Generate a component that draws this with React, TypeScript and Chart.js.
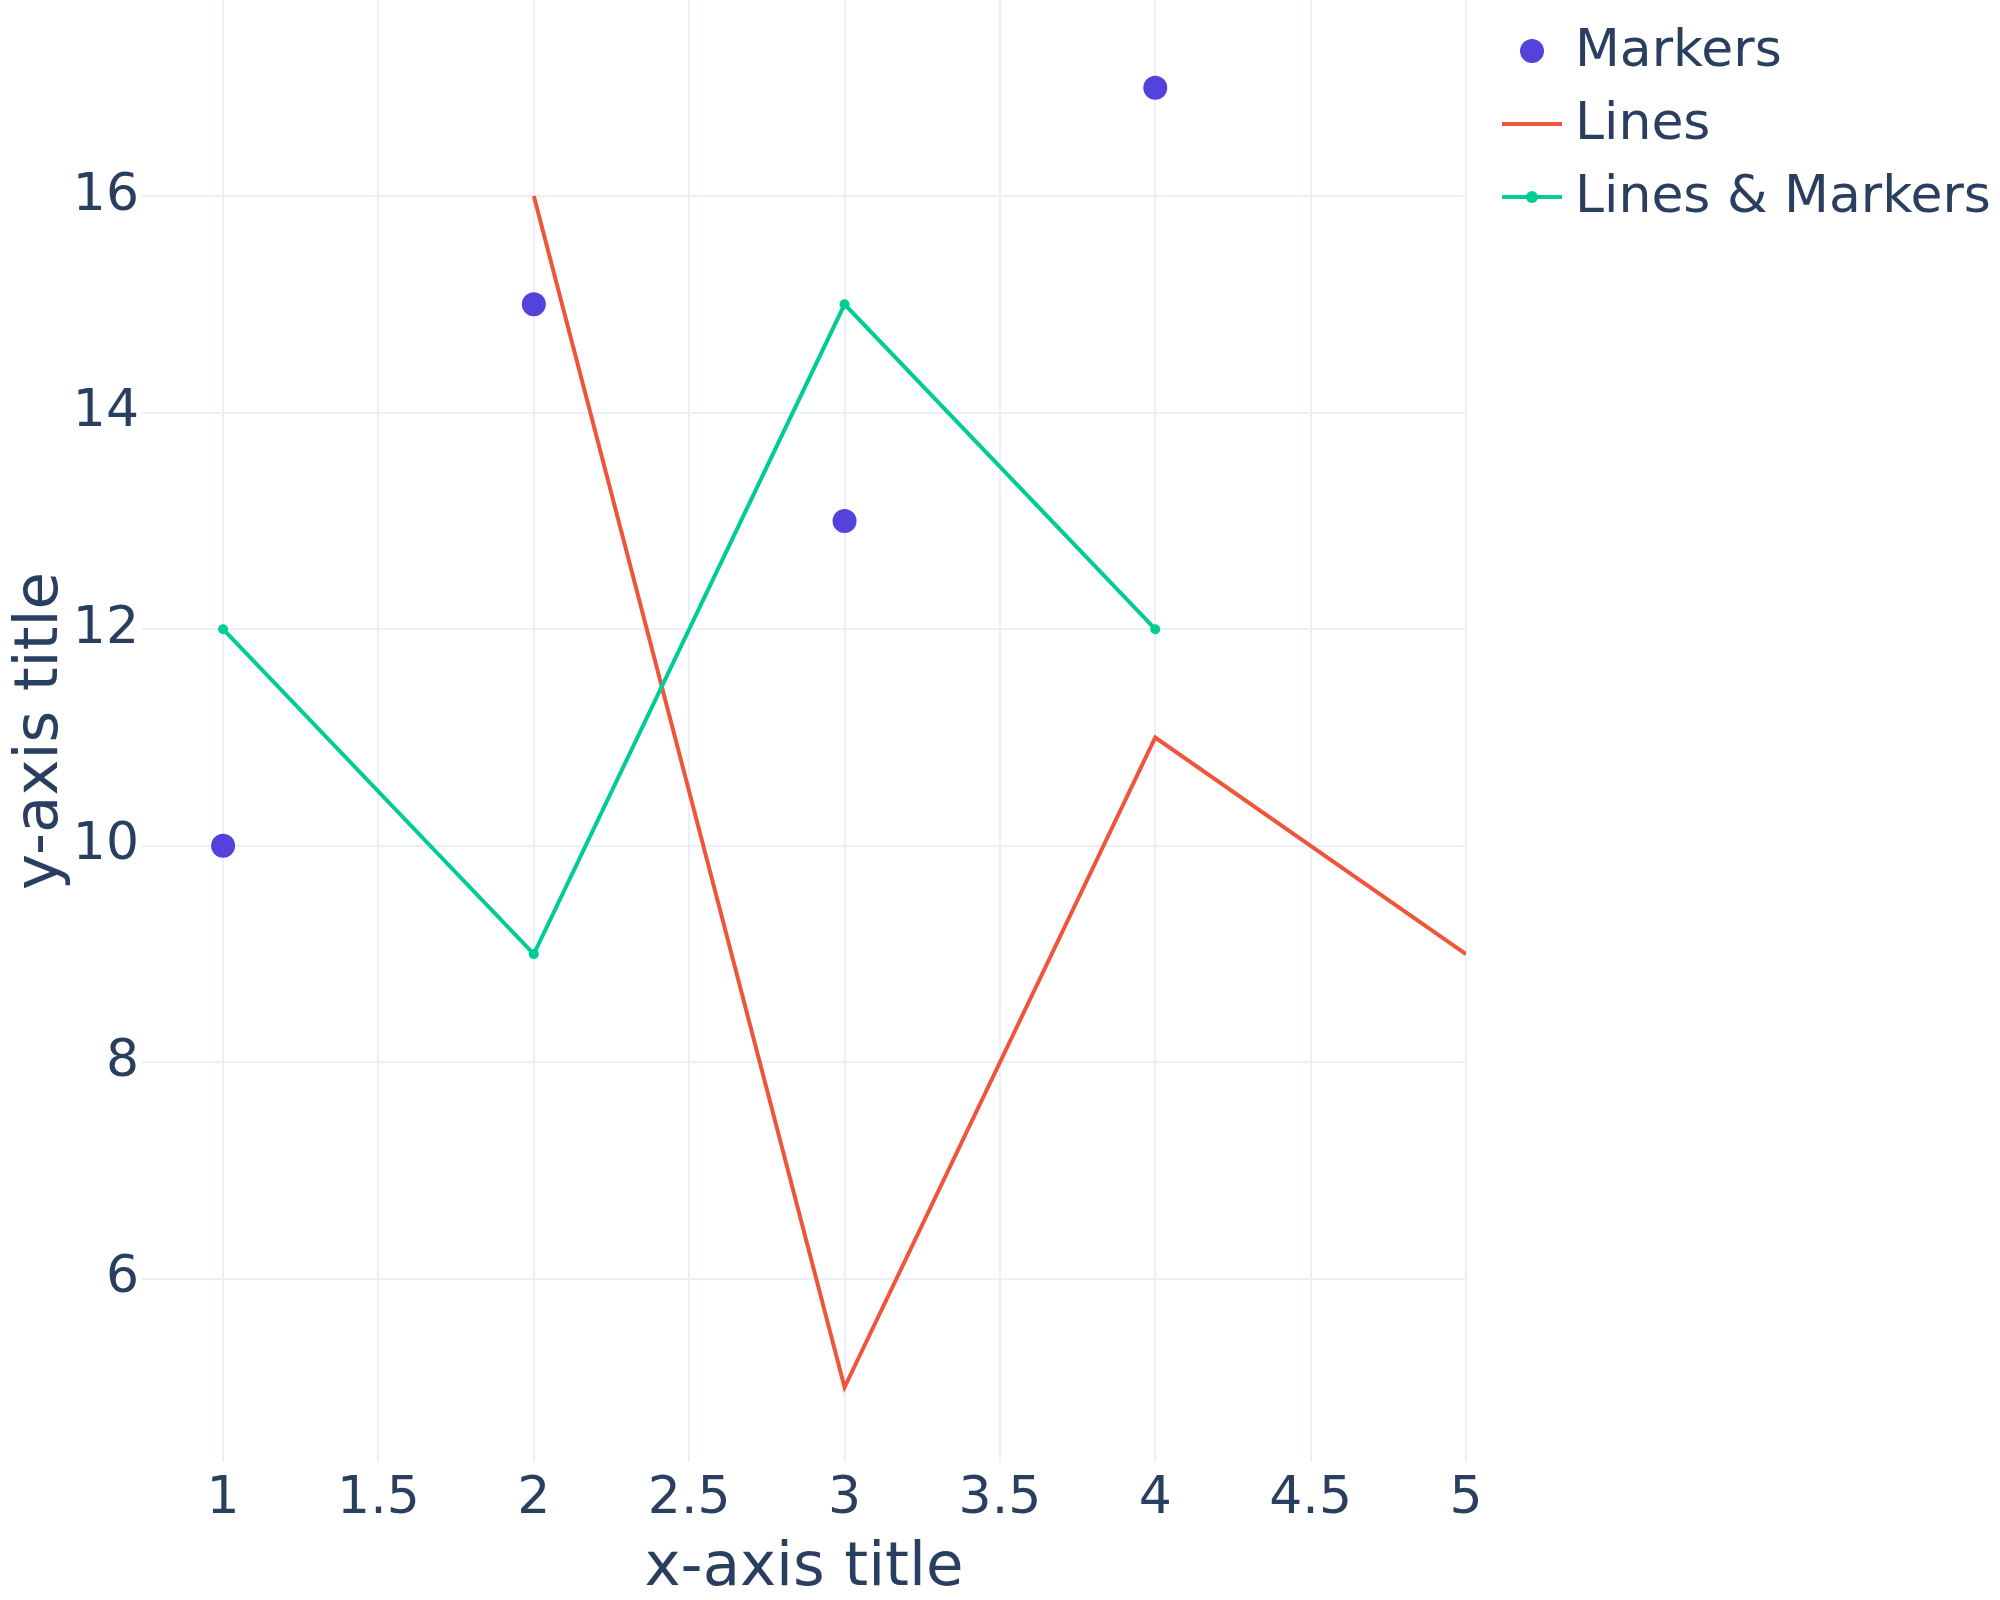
import React, { useEffect, useRef } from "react";
import { Chart, registerables } from "chart.js";

Chart.register(...registerables);

const markersX = [1, 2, 3, 4];
const markersY = [10, 15, 13, 17];
const linesX = [2, 3, 4, 5];
const linesY = [16, 5, 11, 9];
const linesMarkersX = [1, 2, 3, 4];
const linesMarkersY = [12, 9, 15, 12];

const xTickValues = [1, 1.5, 2, 2.5, 3, 3.5, 4, 4.5, 5];
const yTickValues = [6, 8, 10, 12, 14, 16];

const seriesNames = ["Markers", "Lines", "Lines & Markers"];
const xTitle = "x-axis title";
const yTitle = "y-axis title";

const FONT = "'DejaVu Sans', Verdana, sans-serif";
const TEXT = "#2a3f5f";
const GRID = "#EBF0F8";
const C_MARK = "#5442DC";
const C_LINE = "#EF553B";
const C_LM = "#00CC96";

const zip = (xs: number[], ys: number[]) => xs.map((x, i) => ({ x, y: ys[i] }));

const legendPlugin = {
  id: "plotlyLegend",
  afterDraw(chart: any) {
    const ctx = chart.ctx;
    const ds = chart.data.datasets;
    const x0 = 1502, x1 = 1562, textX = 1575;
    const rows = [51, 124, 197];
    ctx.save();
    ctx.font = `52px ${FONT}`;
    ctx.textBaseline = "middle";
    ctx.textAlign = "left";
    ds.forEach((d: any, i: number) => {
      const y = rows[i];
      if (i === 0) {
        ctx.beginPath();
        ctx.fillStyle = C_MARK;
        ctx.arc((x0 + x1) / 2, y, 12, 0, Math.PI * 2);
        ctx.fill();
      } else {
        ctx.beginPath();
        ctx.strokeStyle = d.borderColor;
        ctx.lineWidth = 4;
        ctx.moveTo(x0, y);
        ctx.lineTo(x1, y);
        ctx.stroke();
        if (i === 2) {
          ctx.beginPath();
          ctx.fillStyle = d.borderColor;
          ctx.arc((x0 + x1) / 2, y, 6, 0, Math.PI * 2);
          ctx.fill();
        }
      }
      ctx.fillStyle = TEXT;
      ctx.fillText(d.label, textX, y + 1);
    });
    ctx.restore();
  },
};

export default function App() {
  const ref = useRef<HTMLCanvasElement>(null);
  useEffect(() => {
    if (!ref.current) return;
    const chart = new Chart(ref.current, {
      type: "line",
      data: {
        datasets: [
          {
            label: seriesNames[0],
            data: zip(markersX, markersY),
            showLine: false,
            pointRadius: 12,
            pointHoverRadius: 12,
            pointBackgroundColor: C_MARK,
            pointBorderWidth: 0,
            borderColor: C_MARK,
            backgroundColor: C_MARK,
            order: 3,
          },
          {
            label: seriesNames[1],
            data: zip(linesX, linesY),
            pointRadius: 0,
            borderColor: C_LINE,
            borderWidth: 4,
            tension: 0,
            order: 2,
          },
          {
            label: seriesNames[2],
            data: zip(linesMarkersX, linesMarkersY),
            pointRadius: 5,
            pointBackgroundColor: C_LM,
            pointBorderWidth: 0,
            borderColor: C_LM,
            backgroundColor: C_LM,
            borderWidth: 4,
            tension: 0,
            order: 1,
          },
        ],
      },
      options: {
        responsive: false,
        animation: false,
        devicePixelRatio: 1,
        layout: { autoPadding: false, padding: { left: 0, top: 0, right: 534, bottom: 0 } },
        plugins: { legend: { display: false }, tooltip: { enabled: false } },
        scales: {
          x: {
            type: "linear",
            min: 0.739,
            max: 5,
            border: { display: false },
            grid: { color: GRID, lineWidth: 2, drawTicks: false },
            afterBuildTicks: (s: any) => {
              s.ticks = xTickValues.map((v) => ({ value: v }));
            },
            afterFit: (s: any) => {
              s.height = 138;
              s.paddingLeft = 0;
              s.paddingRight = 0;
              s.paddingTop = 0;
              s.paddingBottom = 0;
            },
            ticks: {
              autoSkip: false,
              maxRotation: 0,
              padding: 11,
              color: TEXT,
              font: { family: FONT, size: 52, lineHeight: 1 },
              callback: (v: any) => String(v),
            },
            title: {
              display: true,
              text: xTitle,
              color: TEXT,
              font: { family: FONT, size: 61, lineHeight: 1 },
              padding: { top: 0, bottom: 0 },
            },
          },
          y: {
            type: "linear",
            min: 4.31,
            max: 17.81,
            border: { display: false },
            grid: { color: GRID, lineWidth: 2, drawTicks: false },
            afterBuildTicks: (s: any) => {
              s.ticks = yTickValues.map((v) => ({ value: v }));
            },
            afterFit: (s: any) => {
              s.width = 142;
              s.paddingLeft = 0;
              s.paddingRight = 0;
              s.paddingTop = 0;
              s.paddingBottom = 0;
            },
            ticks: {
              autoSkip: false,
              padding: 3,
              color: TEXT,
              font: { family: FONT, size: 52, lineHeight: 1 },
              callback: (v: any) => String(v),
            },
            title: {
              display: true,
              text: yTitle,
              color: TEXT,
              font: { family: FONT, size: 61, lineHeight: 1 },
              padding: { top: 11, bottom: 0 },
            },
          },
        },
      } as any,
      plugins: [legendPlugin],
    });
    return () => chart.destroy();
  }, []);
  return (
    <div style={{ position: "absolute", left: 0, top: 0, width: 2000, height: 1600, background: "#fff" }}>
      <canvas ref={ref} width={2000} height={1600} style={{ width: 2000, height: 1600, display: "block" }} />
    </div>
  );
}
